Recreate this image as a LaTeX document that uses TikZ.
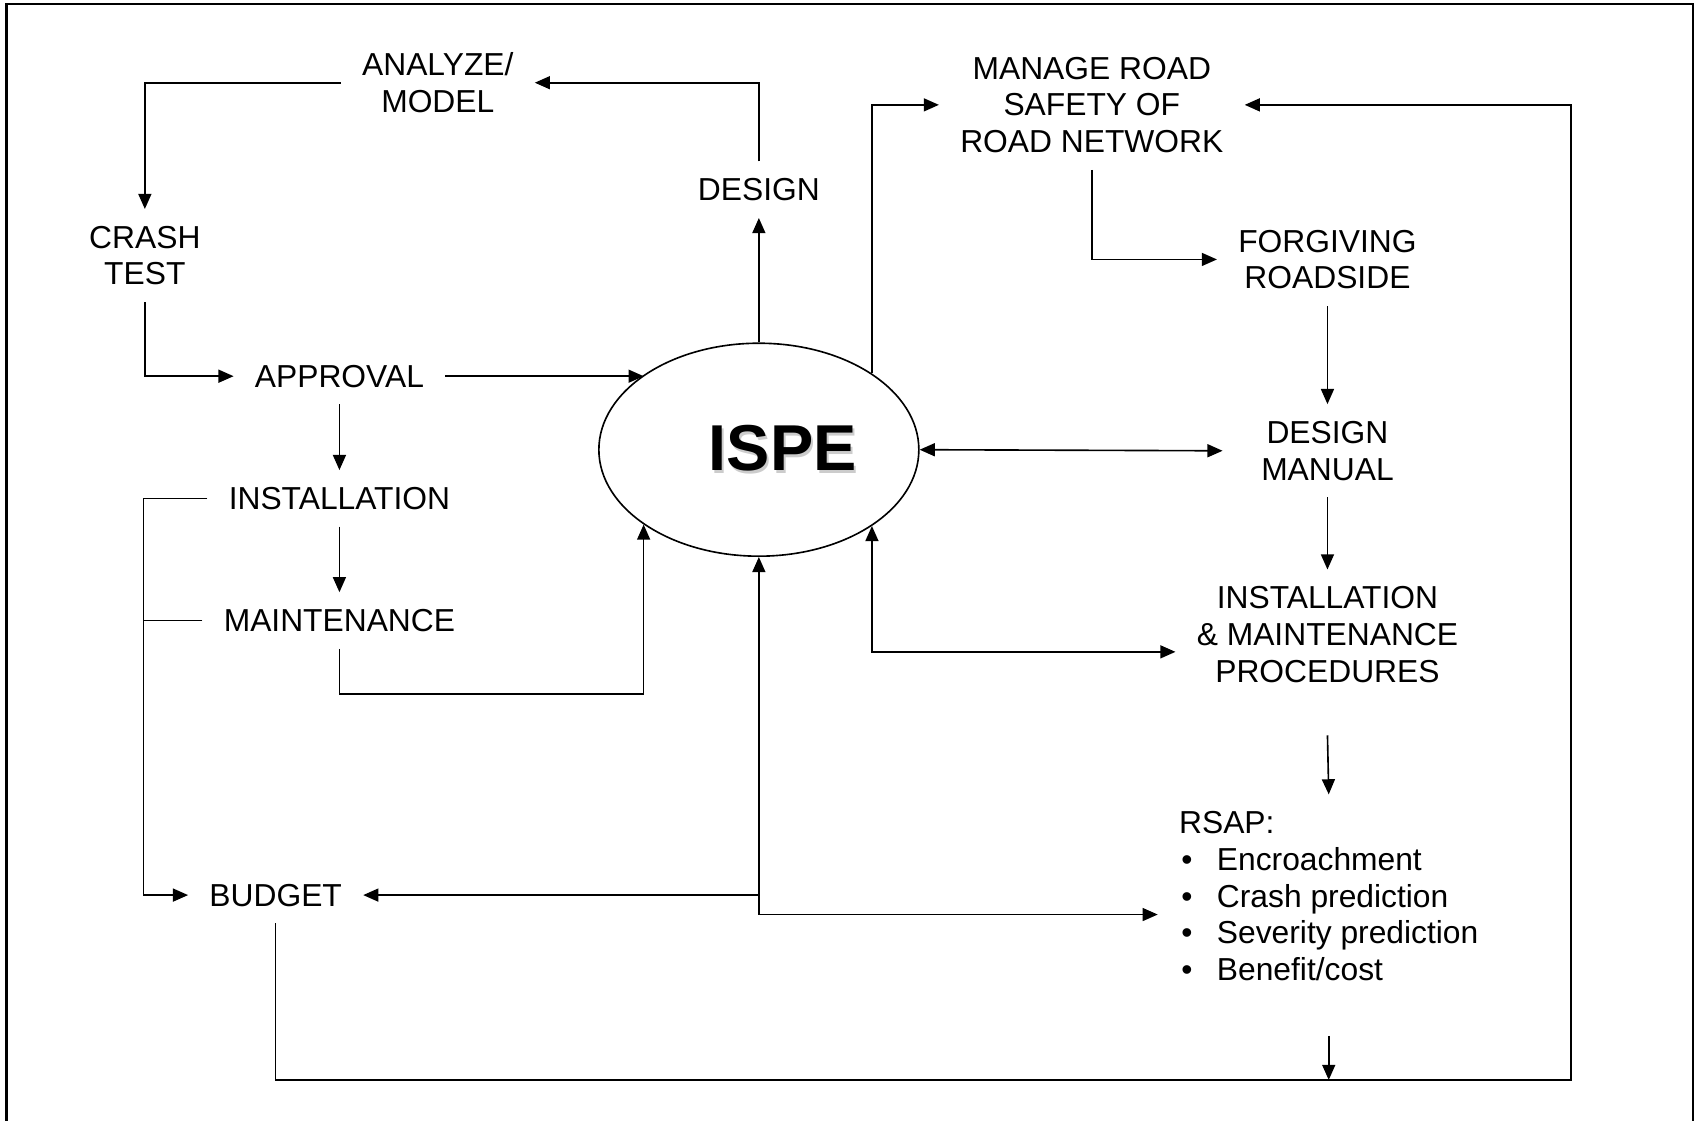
\documentclass[tikz,border=0pt]{standalone}
\usepackage{fontspec}
\setmainfont{Liberation Sans}
\usetikzlibrary{arrows.meta,shapes.geometric}

\begin{document}
\begin{tikzpicture}[
x=0.5bp,
y=-0.5bp,
lbl/.style={
  align=center,
  inner xsep=9.5bp,
  inner ysep=7.5bp,
  font=\fontsize{14.7bp}{17bp}\selectfont
  },
hub/.style={
  draw,
  ellipse,
  inner sep=0pt,
  minimum width=148bp,
  minimum height=98.5bp
  },
bigtxt/.style={
  font=\fontsize{30bp}{30bp}\bfseries\selectfont
  },
line width=0.75bp,
>={Triangle[length=7bp,width=6bp]}
]
\useasboundingbox (0,0) rectangle (1568,1037);
\draw[line width=1bp] (6,1037) -- (6,4) -- (1566,4) -- (1566,1037);

\node[hub] (ispe) at (702,416) {};
\node[bigtxt, text=gray!40] (ispeshd) at (726,417) {ISPE};
\node[bigtxt] (ispetxt) at (724,415) {ISPE};

\node[lbl] (analyze) at (405,76.5) {ANALYZE/\\MODEL};
\node[lbl] (crash) at (134,236.5) {CRASH\\TEST};
\node[lbl] (approval) at (314,348) {APPROVAL};
\node[lbl] (inst) at (314,461) {INSTALLATION};
\node[lbl] (maint) at (314,574) {MAINTENANCE};
\node[lbl] (budget) at (255,828) {BUDGET};
\node[lbl] (design) at (702,175.5) {DESIGN};
\node[lbl] (manage) at (1010,97) {MANAGE ROAD\\SAFETY OF\\ROAD NETWORK};
\node[lbl] (forg) at (1228,240) {FORGIVING\\ROADSIDE};
\node[lbl] (dman) at (1228,417) {DESIGN\\MANUAL};
\node[lbl] (proc) at (1228,587) {INSTALLATION\\\& MAINTENANCE\\PROCEDURES};
\node[lbl, align=left, anchor=west] (rsap) at (1071,829) {RSAP:\\
  \makebox[17.5bp][l]{\hspace{1bp}\textbullet}Encroachment\\
  \makebox[17.5bp][l]{\hspace{1bp}\textbullet}Crash prediction\\
  \makebox[17.5bp][l]{\hspace{1bp}\textbullet}Severity prediction\\
  \makebox[17.5bp][l]{\hspace{1bp}\textbullet}Benefit/cost};

% left half
\draw[->] (design.north) |- (analyze.east);
\draw[->] (analyze.west) -| (crash.north);
\draw[->] (crash.south) |- (approval.west);
\draw[->] (approval.east) -- (approval.east -| ispe.147);
\foreach \a/\b in {approval/inst,inst/maint,forg/dman,dman/proc}
  \draw[->] (\a.south) -- (\b.north);
\draw[->] (maint.south) -- ++(0,42) -| (ispe.-147);
\draw[->] (inst.west) -- ++(-59,0) coordinate (bus) |- (budget.west);
\draw (maint.west) -- (maint.west -| bus);
\draw[->] (ispe.north) -- (design.south);

% right half
\draw[->] (ispe.34) |- (manage.west);
\draw[->] (manage.south) |- (forg.west);
\draw[<->] (ispe.east) -- ([xshift=-8bp]dman.west);
\draw[<->] (ispe.-34) |- ([yshift=-8bp]proc.west);
\draw[->] ([yshift=-16.5bp]proc.south) -- (rsap.north);
\draw[<->] (ispe.south) |- ([yshift=-8.5bp]rsap.west);
\draw[->] (ispe.south |- budget.east) -- (budget.east);

% return loop
\coordinate (loopR) at (1453,999);
\draw[->] (budget.south) |- (loopR) |- (manage.east);
\draw[->] ([yshift=-17.5bp]rsap.south) -- (rsap.south |- loopR);
\end{tikzpicture}
\end{document}
